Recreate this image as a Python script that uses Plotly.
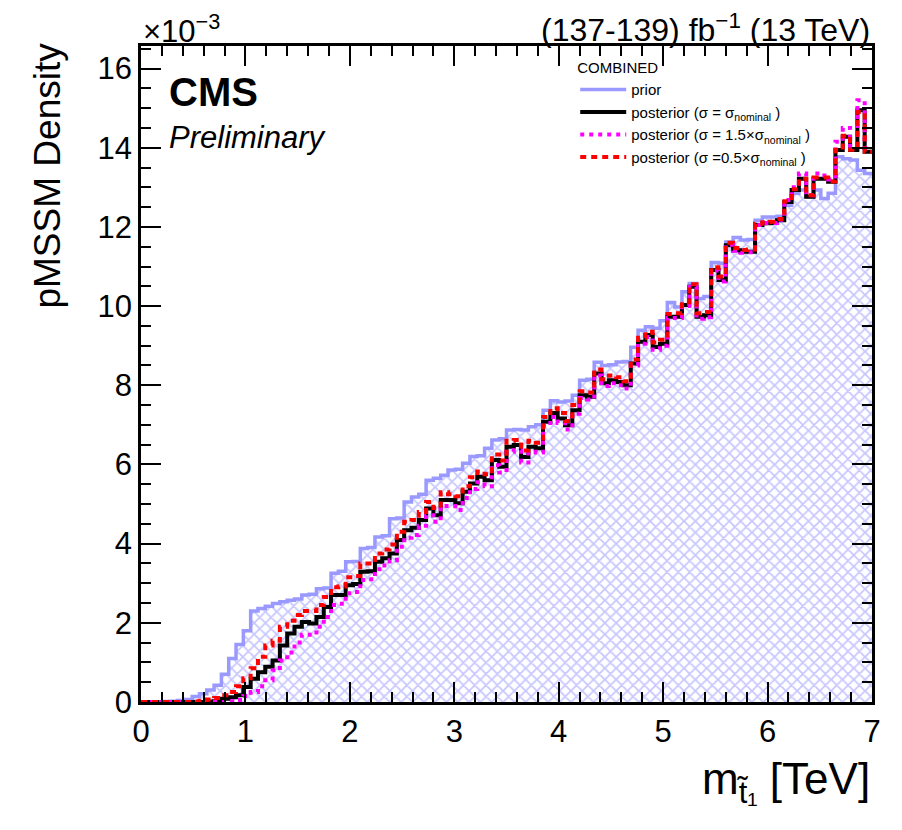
import numpy as np
import plotly.graph_objects as go

# bin edges: 100 bins, 0-7 TeV
edges = np.linspace(0, 7, 101)

prior = [0.0, 0.0, 0.0, 0.01, 0.02, 0.04, 0.06, 0.14, 0.21, 0.30,
         0.42, 0.70, 1.10, 1.45, 1.80, 2.30, 2.36, 2.42, 2.49, 2.53,
         2.57, 2.60, 2.70, 2.72, 2.86, 2.88, 3.25, 3.30, 3.54, 3.55,
         3.88, 3.90, 4.17, 4.20, 4.63, 4.65, 5.05, 5.18, 5.25, 5.60,
         5.65, 5.73, 5.86, 5.88, 6.03, 6.20, 6.22, 6.41, 6.62, 6.65,
         6.87, 6.88, 6.87, 6.95, 7.00, 7.37, 7.61, 7.58, 7.60, 7.75,
         8.13, 8.15, 8.58, 8.50, 8.52, 8.59, 8.60, 8.96, 9.39, 9.48,
         9.44, 9.63, 10.09, 9.98, 10.36, 10.57, 10.19, 10.24, 11.10, 11.08,
         11.62, 11.73, 11.67, 11.68, 12.17, 12.25, 12.25, 12.27, 12.55, 12.85,
         12.93, 12.76, 12.93, 12.72, 12.85, 13.77, 13.72, 13.69, 13.43, 13.35]

post_nom = [0.0, 0.0, 0.0, 0.0, 0.0, 0.0, 0.0, 0.0, 0.0, 0.01,
            0.02, 0.08, 0.12, 0.17, 0.38, 0.59, 0.75, 0.89, 1.05, 1.43,
            1.73, 1.90, 2.02, 1.98, 2.15, 2.40, 2.70, 2.70, 2.95, 2.98,
            3.29, 3.30, 3.54, 3.63, 3.75, 4.09, 4.34, 4.40, 4.60, 4.89,
            4.72, 5.10, 5.10, 5.02, 5.31, 5.52, 5.69, 5.60, 6.11, 5.94,
            6.45, 6.49, 6.19, 6.45, 6.41, 7.08, 7.30, 7.16, 6.99, 7.37,
            7.75, 7.71, 8.30, 8.05, 8.13, 8.08, 8.00, 8.55, 9.10, 9.27,
            8.97, 9.05, 9.73, 9.73, 10.03, 10.49, 9.73, 9.77, 10.91, 10.66,
            11.54, 11.41, 11.37, 11.37, 12.05, 12.09, 12.10, 12.17, 12.63, 12.93,
            13.22, 12.76, 13.22, 13.22, 13.14, 13.94, 14.28, 13.94, 14.95, 13.90]

post_15 = [0.0, 0.0, 0.0, 0.0, 0.0, 0.0, 0.0, 0.0, 0.0, 0.0,
           0.0, 0.0, 0.02, 0.05, 0.15, 0.25, 0.40, 0.55, 0.80, 1.05,
           1.25, 1.50, 1.70, 1.70, 1.90, 2.15, 2.45, 2.48, 2.75, 2.78,
           3.08, 3.10, 3.35, 3.45, 3.58, 3.92, 4.15, 4.22, 4.45, 4.72,
           4.55, 4.95, 4.95, 4.85, 5.15, 5.38, 5.55, 5.45, 5.98, 5.80,
           6.32, 6.36, 6.05, 6.32, 6.30, 6.98, 7.20, 7.05, 6.88, 7.28,
           7.68, 7.64, 8.25, 7.98, 8.05, 8.00, 7.92, 8.50, 9.05, 9.22,
           8.90, 9.00, 9.70, 9.70, 10.00, 10.48, 9.68, 9.72, 10.90, 10.62,
           11.55, 11.40, 11.35, 11.36, 12.05, 12.10, 12.10, 12.18, 12.68, 13.00,
           13.35, 12.80, 13.35, 13.30, 13.20, 14.15, 14.50, 14.05, 15.20, 14.00]

post_05 = [0.0, 0.0, 0.0, 0.0, 0.0, 0.0, 0.0, 0.01, 0.03, 0.06,
           0.10, 0.17, 0.25, 0.40, 0.60, 0.85, 1.14, 1.43, 1.55, 1.90,
           2.05, 2.20, 2.30, 2.30, 2.45, 2.65, 2.90, 2.92, 3.15, 3.18,
           3.50, 3.50, 3.75, 3.85, 3.98, 4.30, 4.55, 4.60, 4.80, 5.05,
           4.90, 5.30, 5.25, 5.20, 5.45, 5.68, 5.82, 5.75, 6.25, 6.10,
           6.60, 6.62, 6.35, 6.60, 6.55, 7.20, 7.42, 7.30, 7.10, 7.50,
           7.85, 7.82, 8.40, 8.15, 8.25, 8.20, 8.10, 8.65, 9.20, 9.35,
           9.08, 9.15, 9.80, 9.82, 10.10, 10.55, 9.82, 9.85, 10.98, 10.75,
           11.60, 11.47, 11.42, 11.43, 12.08, 12.12, 12.13, 12.20, 12.65, 12.95,
           13.22, 12.80, 13.25, 13.25, 13.15, 13.95, 14.30, 13.95, 14.90, 13.90]

xs = list(edges)


def step_y(vals):
    return list(vals) + [vals[-1]]


FONT = "Liberation Sans, Arial, Helvetica, sans-serif"

fig = go.Figure()

# prior hatched fill
fig.add_trace(go.Scatter(
    x=xs, y=step_y(prior), mode="lines", line_shape="hv",
    line=dict(width=0, color="rgba(0,0,0,0)"),
    fill="tozeroy", fillcolor="rgba(0,0,0,0)",
    fillpattern=dict(shape="x", fgcolor="#8f8fff", bgcolor="white", size=8, solidity=0.4),
    showlegend=False, hoverinfo="skip"))

fig.add_trace(go.Scatter(
    x=xs, y=step_y(prior), mode="lines", line_shape="hv",
    line=dict(width=3.5, color="#9999ff"), name="prior"))

fig.add_trace(go.Scatter(
    x=xs, y=step_y(post_nom), mode="lines", line_shape="hv",
    line=dict(width=4, color="black"),
    name="posterior (σ = σ<sub>nominal</sub> )"))

fig.add_trace(go.Scatter(
    x=xs, y=step_y(post_15), mode="lines", line_shape="hv",
    line=dict(width=4, color="#ff00ff", dash="4px,5px"),
    name="posterior (σ = 1.5×σ<sub>nominal</sub> )"))

fig.add_trace(go.Scatter(
    x=xs, y=step_y(post_05), mode="lines", line_shape="hv",
    line=dict(width=4, color="#ff0000", dash="6px,5px"),
    name="posterior (σ =0.5×σ<sub>nominal</sub> )"))

axis_common = dict(
    showline=True, linecolor="black", linewidth=2.5, mirror="allticks",
    ticks="inside", tickcolor="black", tickwidth=2, ticklen=20,
    showgrid=False, zeroline=False,
    tickfont=dict(family=FONT, size=31, color="black"),
)

fig.update_xaxes(range=[0, 7], tickvals=[0, 1, 2, 3, 4, 5, 6, 7],
                 minor=dict(dtick=0.2, ticks="inside", ticklen=10, tickwidth=2, tickcolor="black"),
                 **axis_common)
fig.update_yaxes(range=[0, 16.57], tickvals=[0, 2, 4, 6, 8, 10, 12, 14, 16],
                 minor=dict(dtick=0.5, ticks="inside", ticklen=10, tickwidth=2, tickcolor="black"),
                 **axis_common)

fig.update_layout(
    width=902, height=830,
    margin=dict(l=141, r=30, t=46, b=128),
    paper_bgcolor="white", plot_bgcolor="white",
    font=dict(family=FONT, color="black"),
    legend=dict(
        x=0.594, y=0.988, xanchor="left", yanchor="top",
        bgcolor="rgba(0,0,0,0)", borderwidth=0,
        font=dict(family=FONT, size=15, color="black"),
        title=dict(text="COMBINED", font=dict(family=FONT, size=15, color="black")),
        tracegroupgap=0, itemwidth=46,
    ),
    annotations=[
        dict(text="×10<sup>−3</sup>", x=0, y=1.0, xref="paper", yref="paper",
             xanchor="left", yanchor="bottom", showarrow=False,
             font=dict(family=FONT, size=31, color="black"), yshift=-5),
        dict(text="(137-139) fb<sup>−1</sup> (13 TeV)", x=1, y=1.0, xref="paper", yref="paper",
             xanchor="right", yanchor="bottom", showarrow=False,
             font=dict(family=FONT, size=32, color="black"), yshift=-4),
        dict(text="<b>CMS</b>", x=0.0356, y=0.93, xref="paper", yref="paper",
             xanchor="left", yanchor="middle", showarrow=False,
             font=dict(family=FONT, size=40, color="black")),
        dict(text="<i>Preliminary</i>", x=0.0356, y=0.861, xref="paper", yref="paper",
             xanchor="left", yanchor="middle", showarrow=False,
             font=dict(family=FONT, size=31, color="black")),
        dict(text="pMSSM Density", x=-0.128, y=1.009, xref="paper", yref="paper",
             xanchor="center", yanchor="top", textangle=-90, showarrow=False,
             font=dict(family=FONT, size=37, color="black")),
        dict(text="m<sub>t̃₁</sub> [TeV]", x=1, y=-0.122, xref="paper", yref="paper",
             xanchor="right", yanchor="middle", showarrow=False,
             font=dict(family=FONT, size=44, color="black")),
    ],
)

fig.write_html("out.html")
